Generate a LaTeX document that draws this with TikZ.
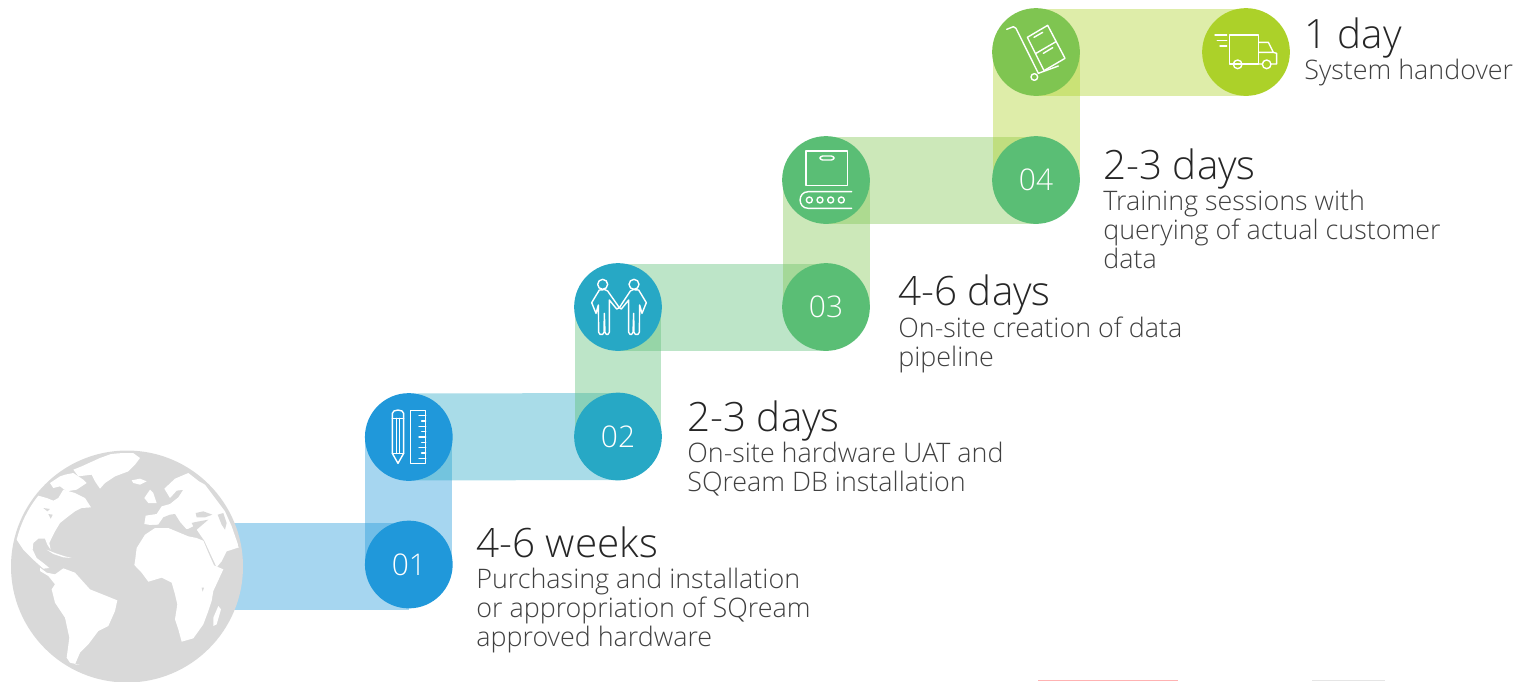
\documentclass[tikz,border=0pt]{standalone}
\usepackage{fontspec}
\setmainfont{Open Sans Light}
\usetikzlibrary{positioning}
\definecolor{cblue}{HTML}{2098DA}
\definecolor{cteal}{HTML}{27A8C5}
\definecolor{cgreen}{HTML}{5ABE75}
\definecolor{clime}{HTML}{7FC551}
\definecolor{cyellow}{HTML}{ACD129}
\definecolor{cearth}{HTML}{D9D9D9}
\tikzset{
  band/.style={line width=1.74cm, draw opacity=0.4},
  stepdot/.style={circle, minimum size=1.755cm, inner sep=0pt, text=white, font=\fontsize{17}{20}\selectfont},
  head/.style={anchor=base west, inner sep=0pt, font=\fontsize{23}{27}\selectfont, text=black!85},
  body/.style={anchor=north west, inner sep=0pt, align=left, font=\fontsize{15.3}{16.45}\selectfont, text=black!75},
  icon/.style={draw=white, line width=0.8pt, line join=round, line cap=round},
  land/.style={fill=white, draw=none},
  sea/.style={fill=cearth, draw=none},
  crop/.style={x=0.00667cm, y=-0.00667cm}
}
\begin{document}
\begin{tikzpicture}[x=0.02cm, y=-0.02cm]
\useasboundingbox (0,0) rectangle (1515,681);
\coordinate (earthc) at (127,566.5);
\node[stepdot] (n01) at (408.8,564.5) {};
\node[stepdot] (ntools) at (408.8,437) {};
\node[stepdot] (n02) at (618,436.5) {};
\node[stepdot] (nmeet) at (618,307) {};
\node[stepdot] (n03) at (826,307) {};
\node[stepdot] (nbelt) at (826,180) {};
\node[stepdot] (n04) at (1036,180) {};
\node[stepdot] (ncart) at (1036,52) {};
\node[stepdot] (ntruck) at (1246,52) {};

\draw[band, cblue] (earthc) -- (earthc -| n01);
\draw[band, cblue] (n01.center) -- (ntools.center);
\draw[band, cteal] (ntools.center) -- (n02.center);
\draw[band, cgreen] (n02.center) -- (nmeet.center);
\draw[band, cgreen] (nmeet.center) -- (n03.center);
\draw[band, clime] (n03.center) -- (nbelt.center);
\draw[band, clime] (nbelt.center) -- (n04.center);
\draw[band, cyellow] (n04.center) -- (ncart.center);
\draw[band, cyellow] (ncart.center) -- (ntruck.center);

\node[stepdot, fill=cblue] at (n01) {01};
\node[stepdot, fill=cblue] at (ntools) {};
\node[stepdot, fill=cteal] at (n02) {02};
\node[stepdot, fill=cteal] at (nmeet) {};
\node[stepdot, fill=cgreen] at (n03) {03};
\node[stepdot, fill=cgreen] at (nbelt) {};
\node[stepdot, fill=cgreen] at (n04) {04};
\node[stepdot, fill=clime] at (ncart) {};
\node[stepdot, fill=cyellow] at (ntruck) {};

\fill[cearth] (earthc) circle (116);
\begin{scope}
\clip (earthc) circle (113.5);
\begin{scope}[shift={(10,448)}, crop]
\fill[land] (18,250) -- (45,190) -- (85,143) -- (110,150) -- (130,158) -- (145,150) -- (160,125) -- (195,135) -- (225,150) -- (243,178) -- (215,180) -- (195,190) -- (175,205) -- (150,225) -- (135,250) -- (125,270) -- (118,285) -- (122,305) -- (112,290) -- (105,272) -- (85,272) -- (70,285) -- (68,305) -- (80,330) -- (100,345) -- (118,360) -- (100,362) -- (70,335) -- (40,305) -- (20,275) -- cycle;
\fill[land] (120,105) -- (150,85) -- (165,80) -- (190,75) -- (220,95) -- (230,105) -- (200,125) -- (170,130) -- (150,115) -- (130,120) -- cycle;
\fill[land] (190,65) -- (215,55) -- (270,30) -- (320,12) -- (360,8) -- (390,30) -- (375,50) -- (355,70) -- (315,85) -- (285,105) -- (270,122) -- (255,100) -- (245,80) -- (205,85) -- cycle;
\fill[land] (110,305) -- (135,315) -- (165,325) -- (185,330) -- (160,328) -- (130,318) -- cycle;
\fill[sea] (100,180) -- (120,183) -- (112,190) -- cycle;
\fill[sea] (115,198) -- (128,200) -- (122,212) -- cycle;
\fill[sea] (22,290) -- (28,295) -- (34,318) -- (28,312) -- cycle;
\end{scope}
\begin{scope}[shift={(125,448)}, crop]
\fill[land] (20,97) -- (45,92) -- (65,100) -- (45,110) -- (25,105) -- cycle;
\fill[land] (58,150) -- (75,125) -- (85,135) -- (95,165) -- (70,165) -- cycle;
\fill[land] (58,228) -- (62,203) -- (95,198) -- (110,175) -- (135,168) -- (160,148) -- (175,125) -- (155,128) -- (135,150) -- (118,122) -- (150,92) -- (190,75) -- (222,100) -- (240,110) -- (270,150) -- (300,190) -- (320,235) -- (342,298) -- (305,310) -- (290,340) -- (275,358) -- (262,330) -- (238,278) -- (215,245) -- (100,235) -- cycle;
\fill[sea] (60,232) -- (100,230) -- (115,208) -- (135,200) -- (150,198) -- (165,222) -- (185,245) -- (205,235) -- (200,225) -- (212,222) -- (250,215) -- (215,245) -- (222,262) -- (215,272) -- (190,270) -- (130,245) -- (90,245) -- (60,255) -- cycle;
\fill[sea] (212,195) -- (235,190) -- (262,200) -- (240,208) -- (215,208) -- cycle;
\fill[sea] (278,200) -- (295,195) -- (305,225) -- (300,245) -- (290,230) -- cycle;
\end{scope}
\begin{scope}[shift={(40,561)}, crop]
\fill[land] (285,1) -- (290,-39) -- (315,-79) -- (345,-99) -- (385,-99) -- (445,-74) -- (470,-69) -- (490,-61) -- (505,-25) -- (522,13) -- (550,25) -- (520,90) -- (515,120) -- (505,150) -- (490,190) -- (460,232) -- (425,242) -- (415,205) -- (405,175) -- (412,130) -- (405,100) -- (395,65) -- (365,50) -- (325,62) -- (305,35) -- (283,12) -- cycle;
\fill[sea] (485,80) -- (492,80) -- (488,92) -- cycle;
\fill[land] (535,135) -- (543,145) -- (530,190) -- (520,195) -- (520,170) -- cycle;
\fill[land] (0,20) -- (20,35) -- (45,40) -- (70,22) -- (105,35) -- (150,85) -- (232,118) -- (225,150) -- (205,195) -- (175,210) -- (145,250) -- (120,275) -- (105,310) -- (120,312) -- (90,305) -- (80,290) -- (88,230) -- (75,170) -- (45,125) -- (35,85) -- (45,70) -- (25,45) -- (0,30) -- cycle;
\end{scope}
\end{scope}

\begin{scope}[shift={(355,385)}, crop]
\draw[icon] (112,205) -- (112,85) .. controls (112,72) and (146,72) .. (146,85) -- (146,205) -- (129,235) -- cycle;
\draw[icon] (112,100) -- (146,100) (124,100) -- (124,205) (134,100) -- (134,205) (112,205) -- (146,205);
\draw[icon] (167,76) rectangle (212,235);
\draw[icon] (212,92) -- (192,92) (212,108) -- (200,108) (212,124) -- (192,124) (212,140) -- (200,140) (212,156) -- (192,156) (212,172) -- (200,172) (212,188) -- (192,188) (212,204) -- (200,204) (212,220) -- (192,220);
\end{scope}

\begin{scope}[shift={(560,255)}, crop]
\draw[icon] (128,88) circle (15) (222,88) circle (15);
\draw[icon] (118,105) -- (95,143) -- (108,175) -- (115,150) -- (116,232) -- (120,238) -- (128,238) -- (132,232) -- (133,175) -- (135,232) -- (139,238) -- (144,238) -- (148,232) -- (148,135) -- (170,162) -- (178,158) -- (143,108) -- (135,104) -- cycle;
\draw[icon] (236,105) -- (259,143) -- (246,175) -- (239,150) -- (238,232) -- (234,238) -- (226,238) -- (222,232) -- (221,175) -- (219,232) -- (215,238) -- (210,238) -- (206,232) -- (206,135) -- (184,162) -- (178,158) -- (211,108) -- (219,104) -- cycle;
\end{scope}

\begin{scope}[shift={(770,130)}, crop]
\draw[icon] (108,63) rectangle (233,167);
\draw[icon, rounded corners=1.5pt] (150,78) rectangle (192,90);
\draw[icon] (245,185) -- (115,185) .. controls (82,185) and (82,235) .. (115,235) -- (245,235);
\draw[icon] (118,210) circle (9) (150,210) circle (9) (182,210) circle (9) (214,210) circle (9);
\end{scope}

\begin{scope}[shift={(980,0)}, crop]
\draw[icon] (80,88) -- (100,80) -- (108,85) -- (175,220) -- (235,198);
\draw[icon] (163,231) circle (10);
\draw[icon] (142,112) -- (203,76) -- (255,175) -- (192,212) -- cycle;
\draw[icon] (168,160) -- (228,125) (162,112) -- (188,97) (190,160) -- (218,143);
\draw[icon] (748,105) rectangle (836,192);
\draw[icon] (836,127) -- (865,127) -- (880,157) -- (890,160) -- (890,192) -- (874,192) (836,157) -- (880,157) (786,192) -- (847,192);
\draw[icon] (773,193) circle (13) (860,193) circle (13);
\draw[icon] (705,105) -- (740,105) (712,122) -- (740,122) (720,138) -- (740,138);
\end{scope}

\node[head] (head01) at (476,557) {4-6 weeks};
\node[body] (text01) at (476,568) {Purchasing and installation\\or appropriation of SQream\\approved hardware};
\node[head] (head02) at (687,431) {2-3 days};
\node[body] (text02) at (687,442) {On-site hardware UAT and\\SQream DB installation};
\node[head] (head03) at (898,305) {4-6 days};
\node[body] (text03) at (898,316.5) {On-site creation of data\\pipeline};
\node[head] (head04) at (1103,179) {2-3 days};
\node[body] (text04) at (1103,190) {Training sessions with\\querying of actual customer\\data};
\node[head] (head05) at (1304,48) {1 day};
\node[body] (text05) at (1304,59) {System handover};

\fill[red!30!white] (1038,679.5) rectangle (1178,681);
\fill[black!10] (1312,679.5) rectangle (1385,681);
\end{tikzpicture}
\end{document}
